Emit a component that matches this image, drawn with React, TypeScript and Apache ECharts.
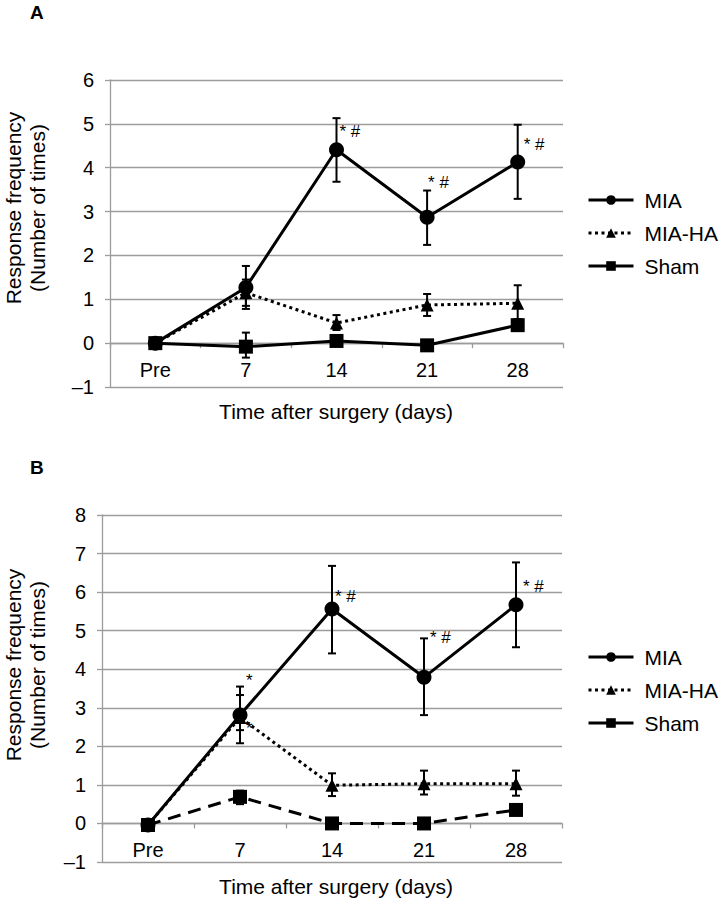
import React, { useEffect, useRef } from 'react';
import * as echarts from 'echarts';

// ---------- data ----------
const categories = ['Pre', '7', '14', '21', '28'];

// Panel A
const miaA = [0, 1.27, 4.41, 2.87, 4.13];
const miaALow = [null, 0.78, 3.68, 2.24, 3.29];
const miaAHigh = [null, 1.76, 5.13, 3.48, 4.98];
const miahaA = [0, 1.15, 0.46, 0.87, 0.91];
const miahaALow = [null, 0.85, 0.3, 0.62, 0.55];
const miahaAHigh = [null, 1.45, 0.64, 1.12, 1.32];
const shamA = [0, -0.08, 0.05, -0.05, 0.41];
const shamALow = [null, -0.33, 0.0, -0.1, 0.3];
const shamAHigh = [null, 0.24, 0.12, 0.0, 0.52];

// Panel B
const miaB = [-0.04, 2.81, 5.56, 3.79, 5.67];
const miaBLow = [null, 2.08, 4.41, 2.81, 4.57];
const miaBHigh = [null, 3.55, 6.68, 4.8, 6.77];
const miahaB = [-0.04, 2.75, 0.99, 1.03, 1.03];
const miahaBLow = [null, 2.42, 0.71, 0.75, 0.72];
const miahaBHigh = [null, 3.33, 1.3, 1.37, 1.37];
const shamB = [-0.04, 0.69, 0, 0, 0.35];
const shamBLow = [null, 0.5, -0.05, -0.05, 0.3];
const shamBHigh = [null, 0.85, 0.05, 0.05, 0.4];

// Significance annotations: [category index, value at text centre]
const annoACats = [2, 3, 4];
const annoAValues = [4.82, 3.66, 4.54];
const annoATexts = ['* #', '* #', '* #'];
const annoADx = [3, 1, 6];

const annoBCats = [1, 1, 2, 3, 4];
const annoBValues = [3.7, 2.45, 5.89, 4.81, 6.15];
const annoBTexts = ['*', '*', '* #', '* #', '* #'];
const annoBDx = [6, 6, 3, 6, 7];

const yMinA = -1, yMaxA = 6;
const yMinB = -1, yMaxB = 8;

const legendNames = ['MIA', 'MIA-HA', 'Sham'];

// ---------- layout ----------
const gridA = { left: 110, top: 80, width: 453, height: 307 };
const gridB = { left: 102, top: 515, width: 460, height: 347 };

// ---------- helpers ----------
const FONT = 'Liberation Sans, Arial, Helvetica, sans-serif';
const GRAY = '#9c9c9c';

function errData(lo: (number | null)[], hi: (number | null)[]) {
  const out: number[][] = [];
  lo.forEach((l, i) => {
    const h = hi[i];
    if (l != null && h != null) out.push([i, l, h]);
  });
  return out;
}

function errSeries(lo: (number | null)[], hi: (number | null)[], axis: number) {
  return {
    type: 'custom',
    xAxisIndex: axis,
    yAxisIndex: axis,
    silent: true,
    z: 3,
    encode: { x: 0, y: [1, 2] },
    data: errData(lo, hi),
    renderItem: (params: any, api: any) => {
      const x = api.value(0);
      const p1 = api.coord([x, api.value(1)]);
      const p2 = api.coord([x, api.value(2)]);
      const w = 4;
      const st = { stroke: '#000', lineWidth: 2 };
      return {
        type: 'group',
        children: [
          { type: 'line', shape: { x1: p1[0], y1: p1[1], x2: p2[0], y2: p2[1] }, style: st },
          { type: 'line', shape: { x1: p1[0] - w, y1: p1[1], x2: p1[0] + w, y2: p1[1] }, style: st },
          { type: 'line', shape: { x1: p2[0] - w, y1: p2[1], x2: p2[0] + w, y2: p2[1] }, style: st },
        ],
      };
    },
  };
}

function annoSeries(cats: number[], vals: number[], texts: string[], dx: number[], axis: number) {
  return {
    type: 'custom',
    xAxisIndex: axis,
    yAxisIndex: axis,
    silent: true,
    z: 6,
    data: cats.map((c, i) => [c, vals[i]]),
    renderItem: (params: any, api: any) => {
      const p = api.coord([api.value(0), api.value(1)]);
      const i = params.dataIndex;
      return {
        type: 'text',
        x: p[0] + dx[i],
        y: p[1],
        style: {
          text: texts[i],
          fill: '#000',
          font: `17px ${FONT}`,
          align: 'left',
          verticalAlign: 'middle',
        },
      };
    },
  };
}

function lineSeries(name: string, data: number[], axis: number, symbol: string, size: number, lineType: any, z: number) {
  return {
    type: 'line',
    name,
    xAxisIndex: axis,
    yAxisIndex: axis,
    data,
    symbol,
    symbolSize: size,
    z,
    lineStyle: { color: '#000', width: 3, type: lineType },
    itemStyle: { color: '#000' },
    emphasis: { disabled: true },
  };
}

function xAxis(grid: number, g: { height: number }, min: number, max: number) {
  // place the category axis on the value 0 line
  const offset = -(g.height / (max - min)) * (0 - min);
  return {
    type: 'category',
    gridIndex: grid,
    position: 'bottom',
    offset,
    data: categories,
    boundaryGap: true,
    axisLine: { onZero: false, lineStyle: { color: GRAY, width: 1.3 } },
    axisTick: { show: true, length: 5, lineStyle: { color: GRAY, width: 1.3 } },
    axisLabel: { color: '#000', fontSize: 20, fontFamily: FONT, margin: 17 },
    splitLine: { show: false },
  };
}

function yAxis(grid: number, min: number, max: number) {
  return {
    type: 'value',
    gridIndex: grid,
    min,
    max,
    interval: 1,
    axisLine: { show: true, lineStyle: { color: GRAY, width: 1.3 } },
    axisTick: { show: true, length: 5, lineStyle: { color: GRAY, width: 1.3 } },
    splitLine: { show: true, lineStyle: { color: GRAY, width: 1.3 } },
    axisLabel: {
      color: '#000',
      fontSize: 20,
      fontFamily: FONT,
      margin: 16,
      formatter: (v: number) => (v < 0 ? '\u2013' + Math.abs(v) : String(v)),
    },
  };
}

function legend(top: number, suffix: string) {
  return {
    orient: 'vertical',
    left: 587,
    top,
    padding: 0,
    itemWidth: 45,
    itemHeight: 12,
    itemGap: 11,
    selectedMode: false,
    data: legendNames.map((n) =>
      n === 'Sham' ? { name: n + suffix, lineStyle: { type: 'solid' } } : { name: n + suffix }
    ),
    formatter: (name: string) => name.split('|')[0],
    lineStyle: { width: 3 },
    textStyle: { color: '#000', fontSize: 21, lineHeight: 22, fontFamily: FONT, padding: [0, 0, 0, 6] },
  };
}

export default function App() {
  const ref = useRef<HTMLDivElement>(null);

  useEffect(() => {
    document.body.style.margin = '0';
    const chart = echarts.init(ref.current!, null, { renderer: 'svg' });
    const dotted = [3, 3.5];
    const dashed = [13, 8];
    const option: any = {
      animation: false,
      backgroundColor: '#fff',
      grid: [gridA, gridB],
      xAxis: [xAxis(0, gridA, yMinA, yMaxA), xAxis(1, gridB, yMinB, yMaxB)],
      yAxis: [yAxis(0, yMinA, yMaxA), yAxis(1, yMinB, yMaxB)],
      legend: [legend(189, ''), legend(646, '|B')],
      series: [
        errSeries(shamALow, shamAHigh, 0),
        errSeries(miahaALow, miahaAHigh, 0),
        errSeries(miaALow, miaAHigh, 0),
        lineSeries('Sham', shamA, 0, 'rect', 14, 'solid', 4),
        lineSeries('MIA-HA', miahaA, 0, 'triangle', 13, dotted, 4),
        lineSeries('MIA', miaA, 0, 'circle', 15, 'solid', 5),
        annoSeries(annoACats, annoAValues, annoATexts, annoADx, 0),

        errSeries(shamBLow, shamBHigh, 1),
        errSeries(miahaBLow, miahaBHigh, 1),
        errSeries(miaBLow, miaBHigh, 1),
        lineSeries('Sham|B', shamB, 1, 'rect', 14, dashed, 4),
        lineSeries('MIA-HA|B', miahaB, 1, 'triangle', 13, dotted, 4),
        lineSeries('MIA|B', miaB, 1, 'circle', 15, 'solid', 5),
        annoSeries(annoBCats, annoBValues, annoBTexts, annoBDx, 1),
      ],
      graphic: [
        { type: 'text', left: 30, top: 3, style: { text: 'A', font: `bold 19px ${FONT}`, fill: '#000' } },
        { type: 'text', left: 30, top: 458, style: { text: 'B', font: `bold 19px ${FONT}`, fill: '#000' } },
        {
          type: 'text', x: 25, y: 208, rotation: Math.PI / 2,
          style: { text: 'Response frequency\n(Number of times)', font: `21px ${FONT}`, fill: '#000', align: 'center', verticalAlign: 'middle', lineHeight: 24 },
        },
        {
          type: 'text', x: 25, y: 665, rotation: Math.PI / 2,
          style: { text: 'Response frequency\n(Number of times)', font: `21px ${FONT}`, fill: '#000', align: 'center', verticalAlign: 'middle', lineHeight: 24 },
        },
        {
          type: 'text', x: 336, y: 411,
          style: { text: 'Time after surgery (days)', font: `21px ${FONT}`, fill: '#000', align: 'center', verticalAlign: 'middle' },
        },
        {
          type: 'text', x: 336, y: 886,
          style: { text: 'Time after surgery (days)', font: `21px ${FONT}`, fill: '#000', align: 'center', verticalAlign: 'middle' },
        },
      ],
    };
    chart.setOption(option);
    return () => chart.dispose();
  }, []);

  return <div ref={ref} style={{ position: 'absolute', left: 0, top: 0, width: 721, height: 900 }} />;
}
